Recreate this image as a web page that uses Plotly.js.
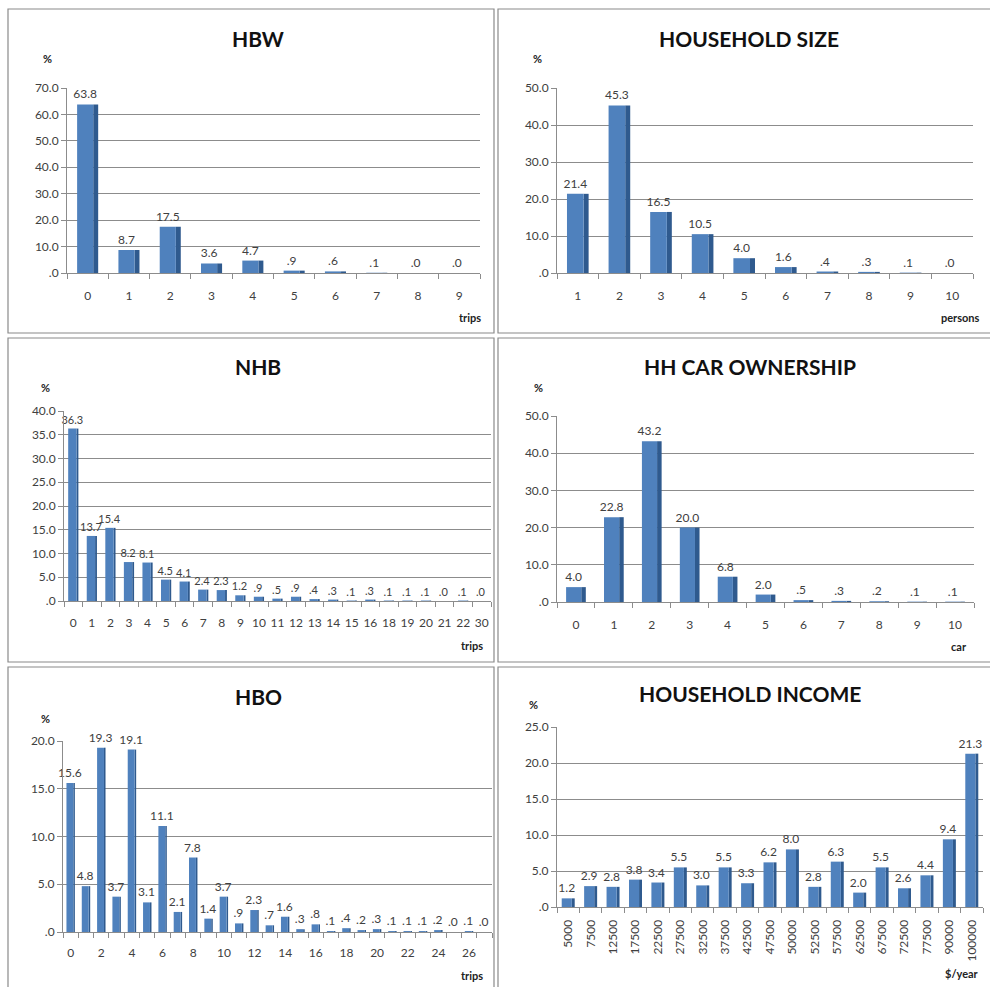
<!DOCTYPE html>
<html><head><meta charset="utf-8">
<script src="https://cdn.plot.ly/plotly-3.0.1.min.js"></script>
<style>html,body{margin:0;padding:0;background:#fff}#c{width:990px;height:987px}</style>
</head><body><div id="c"></div>
<script>
// ---------- DATA ----------
const hbwTrips = ["0","1","2","3","4","5","6","7","8","9"];
const hbwPct = [63.8, 8.7, 17.5, 3.6, 4.7, 0.9, 0.6, 0.1, 0.0, 0.0];

const hhSize = ["1","2","3","4","5","6","7","8","9","10"];
const hhSizePct = [21.4, 45.3, 16.5, 10.5, 4.0, 1.6, 0.4, 0.3, 0.1, 0.0];

const nhbTrips = ["0","1","2","3","4","5","6","7","8","9","10","11","12","13","14","15","16","18","19","20","21","22","30"];
const nhbPct = [36.3, 13.7, 15.4, 8.2, 8.1, 4.5, 4.1, 2.4, 2.3, 1.2, 0.9, 0.5, 0.9, 0.4, 0.3, 0.1, 0.3, 0.1, 0.1, 0.1, 0.0, 0.1, 0.0];

const carOwn = ["0","1","2","3","4","5","6","7","8","9","10"];
const carPct = [4.0, 22.8, 43.2, 20.0, 6.8, 2.0, 0.5, 0.3, 0.2, 0.1, 0.1];

const hboTrips = [0,1,2,3,4,5,6,7,8,9,10,11,12,13,14,15,16,17,18,19,20,21,22,23,24,25,26,27];
const hboPct = [15.6, 4.8, 19.3, 3.7, 19.1, 3.1, 11.1, 2.1, 7.8, 1.4, 3.7, 0.9, 2.3, 0.7, 1.6, 0.3, 0.8, 0.1, 0.4, 0.2, 0.3, 0.1, 0.1, 0.1, 0.2, 0.0, 0.1, 0.0];
const hboTickVals = [0,2,4,6,8,10,12,14,16,18,20,22,24,26];

const income = ["5000","7500","12500","17500","22500","27500","32500","37500","42500","47500","50000","52500","57500","62500","67500","72500","77500","90000","100000"];
const incomePct = [1.2, 2.9, 2.8, 3.8, 3.4, 5.5, 3.0, 5.5, 3.3, 6.2, 8.0, 2.8, 6.3, 2.0, 5.5, 2.6, 4.4, 9.4, 21.3];

const hbwTicks = [0,10,20,30,40,50,60,70];
const hhSizeTicks = [0,10,20,30,40,50];
const nhbTicks = [0,5,10,15,20,25,30,35,40];
const carTicks = [0,10,20,30,40,50];
const hboTicks = [0,5,10,15,20];
const incomeTicks = [0,5,10,15,20,25];

// ---------- HELPERS ----------
const W = 990, H = 987;
const fx = x => x / W;
const fy = y => 1 - y / H;
const fmt = v => { const s = v.toFixed(1); return s.startsWith("0") ? s.slice(1) : s; };

const FRONT = "#4F81BD", SIDE = "#2F5A8E", GRID = "#8C8C8C", TXT = "#404040";
const FONT = "Lato, 'Open Sans', sans-serif";

const panels = [
  {key:"", title:"HBW", unit:"trips", x:hbwTrips, y:hbwPct, ticks:hbwTicks, ymax:70,
   left:67, right:480, bottom:273, top:88, w:0.39, s:0.12, st:12, fs:12,
   tx:258, ty:38, px:47, py:59, ux:470, uy:317, box:[8,9,494,333]},
  {key:"2", title:"HOUSEHOLD SIZE", unit:"persons", x:hhSize, y:hhSizePct, ticks:hhSizeTicks, ymax:50,
   left:557, right:973, bottom:273, top:88, w:0.4, s:0.12, st:12, fs:12,
   tx:749, ty:38, px:537, py:59, ux:960, uy:317, box:[498,9,995,333]},
  {key:"3", title:"NHB", unit:"trips", x:nhbTrips, y:nhbPct, ticks:nhbTicks, ymax:40,
   left:64, right:491, bottom:601, top:411, w:0.45, s:0.1, st:11, fs:11,
   tx:258, ty:367, px:45, py:387, ux:472, uy:645, box:[8,338,494,662]},
  {key:"4", title:"HH CAR OWNERSHIP", unit:"car", x:carOwn, y:carPct, ticks:carTicks, ymax:50,
   left:557, right:974, bottom:602, top:416, w:0.4, s:0.12, st:12, fs:12,
   tx:750, ty:367, px:538, py:387, ux:959, uy:646, box:[498,338,995,662]},
  {key:"5", title:"HBO", unit:"trips", x:hboTrips, y:hboPct, ticks:hboTicks, ymax:20,
   left:63, right:492, bottom:932, top:741, w:0.45, s:0.1, st:10, fs:12, linear:true,
   tx:258, ty:696, px:45, py:718, ux:472, uy:975, box:[8,667,494,995]},
  {key:"6", title:"HOUSEHOLD INCOME", unit:"$/year", x:income, y:incomePct, ticks:incomeTicks, ymax:25,
   left:557, right:983, bottom:907, top:727, w:0.45, s:0.13, st:7, fs:12, rot:true,
   tx:750, ty:693, px:533, py:704, ux:962, uy:973, box:[498,667,995,995]}
];

const data = [], shapes = [], annotations = [];
const layout = {
  width: W, height: H, margin:{l:0,r:0,t:0,b:0},
  paper_bgcolor:"#fff", plot_bgcolor:"#fff", showlegend:false,
  barmode:"overlay", font:{family:FONT, color:TXT, size:12}
};

panels.forEach(p => {
  const xa = "x" + p.key, ya = "y" + p.key;
  const tot = p.w + p.s;
  // side (depth) face
  data.push({type:"bar", x:p.x, y:p.y, xaxis:xa, yaxis:ya, width:p.s, offset:-tot/2 + p.w,
    marker:{color:SIDE, line:{width:0}}, hoverinfo:"skip"});
  // front face with value labels
  data.push({type:"bar", x:p.x, y:p.y, xaxis:xa, yaxis:ya, width:p.w, offset:-tot/2,
    marker:{color:FRONT, line:{width:0}}, text:p.y.map(fmt), textposition:"outside",
    constraintext:"none", textfont:{family:FONT, size:p.fs, color:TXT},
    outsidetextfont:{family:FONT, size:p.fs, color:TXT}, cliponaxis:false, hoverinfo:"x+y"});

  const n = p.x.length;
  const xaxis = {
    domain:[fx(p.left), fx(p.right)], anchor:ya, range:[-0.5, n-0.5],
    showgrid:false, zeroline:false, showline:true, linecolor:GRID, linewidth:1,
    tickfont:{family:FONT, size:12, color:TXT}, fixedrange:true, ticklabelstandoff:p.st
  };
  if (p.linear) {
    Object.assign(xaxis, {type:"linear", tickvals:hboTickVals, ticktext:hboTickVals.map(String),
      ticks:"", minor:{tick0:-0.5, dtick:1, ticks:"outside", ticklen:5, tickcolor:GRID}});
  } else {
    Object.assign(xaxis, {type:"category", ticks:"outside", tickson:"boundaries", ticklen:5, tickcolor:GRID});
  }
  xaxis.tickangle = p.rot ? -90 : 0;
  layout["xaxis" + p.key] = xaxis;
  layout["yaxis" + p.key] = {
    domain:[fy(p.bottom), fy(p.top)], anchor:xa, range:[0, p.ymax],
    tickvals:p.ticks, ticktext:p.ticks.map(t => fmt(t)),
    showgrid:true, gridcolor:GRID, gridwidth:1, zeroline:false,
    showline:true, linecolor:GRID, linewidth:1, ticks:"outside", ticklen:5, tickcolor:GRID,
    tickfont:{family:FONT, size:12, color:TXT}, fixedrange:true
  };

  const b = p.box;
  shapes.push({type:"rect", xref:"paper", yref:"paper", x0:fx(b[0]), x1:fx(b[2]), y0:fy(b[3]), y1:fy(b[1]),
    line:{color:"#8A8A8A", width:1.2}, fillcolor:"rgba(0,0,0,0)"});

  annotations.push({xref:"paper", yref:"paper", x:fx(p.tx), y:fy(p.ty), text:"<b>"+p.title+"</b>",
    showarrow:false, xanchor:"center", yanchor:"middle", font:{family:FONT, size:21, color:"#111"}});
  annotations.push({xref:"paper", yref:"paper", x:fx(p.px), y:fy(p.py), text:"<b>%</b>",
    showarrow:false, xanchor:"center", yanchor:"middle", font:{family:FONT, size:11, color:"#222"}});
  annotations.push({xref:"paper", yref:"paper", x:fx(p.ux), y:fy(p.uy), text:"<b>"+p.unit+"</b>",
    showarrow:false, xanchor:"center", yanchor:"middle", font:{family:FONT, size:11, color:"#222"}});
});

layout.shapes = shapes;
layout.annotations = annotations;
Plotly.newPlot("c", data, layout, {staticPlot:true, displayModeBar:false});
</script>
</body></html>
